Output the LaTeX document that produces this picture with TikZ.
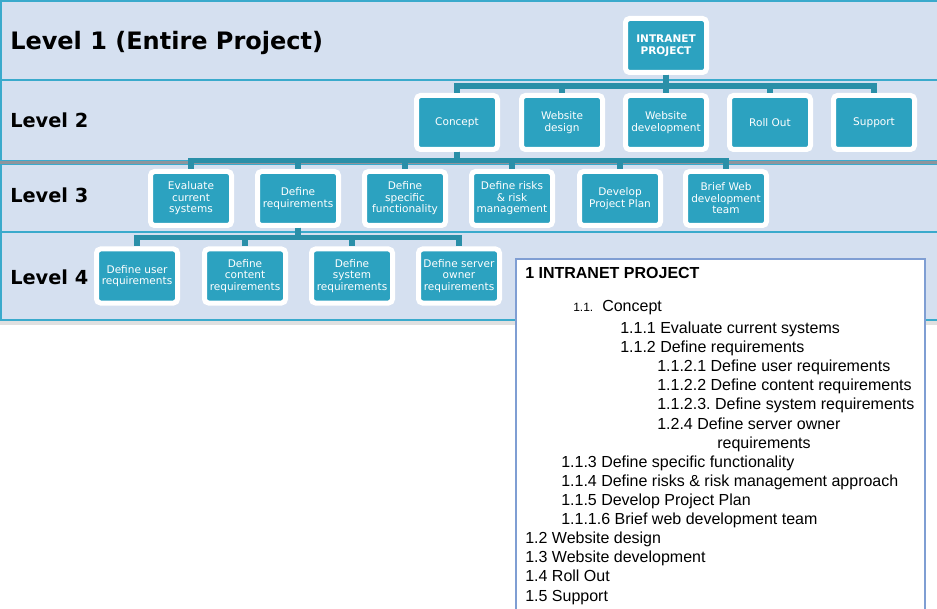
\documentclass[tikz,border=0pt]{standalone}
\usepackage{fontspec}
\setmainfont{DejaVu Sans}
\newfontfamily\outlinefont{Liberation Sans}
\definecolor{bandfill}{RGB}{213,224,240}
\definecolor{bandline}{RGB}{58,170,204}
\definecolor{boxfill}{RGB}{44,162,192}
\definecolor{linkcol}{RGB}{42,143,168}
\definecolor{sepgray}{RGB}{142,148,156}
\definecolor{shadowgray}{RGB}{224,224,224}
\definecolor{outlineline}{RGB}{127,158,211}
\frenchspacing
\begin{document}
\begin{tikzpicture}[x=0.75pt, y=-0.75pt,
  band/.style={fill=bandfill, draw=bandline, line width=0.9pt},
  wbs/.style={draw=white, fill=boxfill, line width=3.75pt, rounded corners=3pt,
    minimum width=60.75pt, minimum height=40.5pt, inner sep=1pt, text=white,
    align=center, font=\fontsize{7.9}{8.6}\selectfont},
  link/.style={draw=linkcol, line width=4.3pt},
  lvl/.style={anchor=base west, inner sep=0pt, font=\bfseries\fontsize{14.5}{16}\selectfont},
  ol/.style={anchor=base west, inner sep=0pt, font=\outlinefont\fontsize{12}{14}\selectfont}]
  \useasboundingbox (0,0) rectangle (937,609);

  \draw[band] (1,1) rectangle (945,80);
  \draw[band] (1,80) rectangle (945,161);
  \draw[band] (1,164) rectangle (945,232);
  \draw[band] (1,232) rectangle (945,320);
  \fill[sepgray] (0,161.5) rectangle (945,164);
  \fill[shadowgray] (0,321) rectangle (945,325);

  \node[lvl, font=\bfseries\fontsize{18}{20}\selectfont] (lvlone) at (10,50) {Level 1 (Entire Project)};
  \node[lvl] (lvltwo) at (10,128) {Level 2};
  \node[lvl] (lvlthree) at (10,203) {Level 3};
  \node[lvl] (lvlfour) at (10,284) {Level 4};

  \node[wbs, font=\bfseries\fontsize{7.9}{8.6}\selectfont] (root) at (666,45.5) {INTRANET\\PROJECT};

  \node[wbs] (concept) at (457,122.5) {Concept};
  \node[wbs] (design)  at (562,122.5) {Website\\design};
  \node[wbs] (develop) at (666,122.5) {Website\\development};
  \node[wbs] (rollout) at (770,122.5) {Roll Out};
  \node[wbs] (support) at (874,122.5) {Support};

  \node[wbs] (evaluate) at (191,198.5) {Evaluate\\current\\systems};
  \node[wbs] (defreq)   at (298,198.5) {Define\\requirements};
  \node[wbs] (specific) at (405,198.5) {Define\\specific\\functionality};
  \node[wbs] (risks)    at (512,198.5) {Define risks\\\& risk\\management};
  \node[wbs] (plan)     at (620,198.5) {Develop\\Project Plan};
  \node[wbs] (brief)    at (726,198.5) {Brief Web\\development\\team};

  \node[wbs] (userreq)    at (137,276) {Define user\\requirements};
  \node[wbs] (contentreq) at (245,276) {Define\\content\\requirements};
  \node[wbs] (systemreq)  at (352,276) {Define\\system\\requirements};
  \node[wbs] (serverreq)  at (459,276) {Define server\\owner\\requirements};

  \coordinate (barone) at (666,86);
  \coordinate (bartwo) at (457,160.5);
  \coordinate (barthree) at (298,237.5);
  \foreach \c in {concept,design,develop,rollout,support}
    \draw[link] (root.south) -- (root.south |- barone) -| (\c.north);
  \foreach \c in {evaluate,defreq,specific,risks,plan,brief}
    \draw[link] (concept.south) -- (concept.south |- bartwo) -| (\c.north);
  \foreach \c in {userreq,contentreq,systemreq,serverreq}
    \draw[link] (defreq.south) -- (defreq.south |- barthree) -| (\c.north);

  \draw[draw=outlineline, fill=white, line width=0.9pt] (516,259) rectangle (925,620);
  \node[ol, font=\outlinefont\bfseries\fontsize{12}{14}\selectfont] (oltitle) at (525,278) {1 INTRANET PROJECT};
  \node[ol, font=\outlinefont\fontsize{9}{10}\selectfont] (olnum) at (573,311) {1.1.};
  \node[ol] (olconcept)  at (602,311) {Concept};
  \node[ol] (olevaluate) at (620,333) {1.1.1 Evaluate current systems};
  \node[ol] (oldefreq)   at (620,352) {1.1.2 Define requirements};
  \node[ol] (oluser)     at (657,371) {1.1.2.1 Define user requirements};
  \node[ol] (olcontent)  at (657,390) {1.1.2.2 Define content requirements};
  \node[ol] (olsystem)   at (657,409) {1.1.2.3. Define system requirements};
  \node[ol] (olserver)   at (657,429) {1.2.4 Define server owner};
  \node[ol] (olserverb)  at (717,448) {requirements};
  \node[ol] (olspecific) at (561,467) {1.1.3 Define specific functionality};
  \node[ol] (olrisks)    at (561,486) {1.1.4 Define risks \& risk management approach};
  \node[ol] (olplan)     at (561,505) {1.1.5 Develop Project Plan};
  \node[ol] (olbrief)    at (561,524) {1.1.1.6 Brief web development team};
  \node[ol] (oldesign)   at (525,543) {1.2 Website design};
  \node[ol] (oldevelop)  at (525,562) {1.3 Website development};
  \node[ol] (olrollout)  at (525,581) {1.4 Roll Out};
  \node[ol] (olsupport)  at (525,601) {1.5 Support};
\end{tikzpicture}
\end{document}
